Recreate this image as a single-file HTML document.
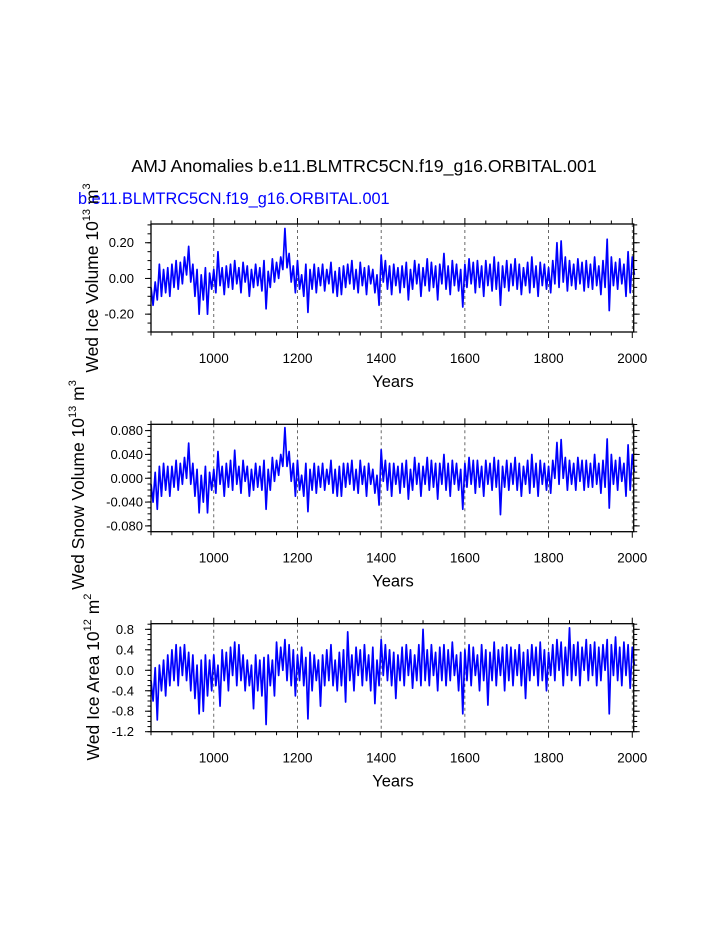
<!DOCTYPE html>
<html><head><meta charset="utf-8"><style>
html,body{margin:0;padding:0;background:#fff;}
svg{display:block;font-family:"Liberation Sans",sans-serif;}
</style></head><body>
<svg id="chart" width="723" height="935" viewBox="0 0 723 935" xmlns="http://www.w3.org/2000/svg">
<text x="364" y="172" font-size="17.7" text-anchor="middle" fill="#000">AMJ Anomalies b.e11.BLMTRC5CN.f19_g16.ORBITAL.001</text>
<text x="78" y="204" font-size="16.3" fill="#0000ff">b.e11.BLMTRC5CN.f19_g16.ORBITAL.001</text>
<g id="plots"></g>
</svg>
<script>
const years0 = 850, yearStep = 5;
const xTicks = [1000,1200,1400,1600,1800,2000];
const iceVol = [
-0.05,-0.15,-0.02,-0.12,0.08,-0.1,0.05,-0.08,0.06,-0.1,
0.08,-0.05,0.1,-0.06,0.09,-0.03,0.12,0.02,0.18,-0.02,
0.08,-0.1,0.05,-0.2,0.02,-0.12,0.06,-0.2,0.03,-0.06,
0.05,-0.08,0.15,-0.04,0.06,-0.09,0.07,-0.05,0.08,-0.06,
0.1,-0.03,0.06,-0.08,0.09,-0.02,0.07,-0.1,0.05,-0.05,
0.08,-0.04,0.06,-0.07,0.1,-0.17,0.04,-0.05,0.11,-0.02,
0.09,0.0,0.12,0.05,0.28,0.06,0.14,-0.02,0.07,-0.08,
0.1,-0.06,0.02,-0.1,0.08,-0.19,0.05,-0.06,0.08,-0.08,
0.06,-0.04,0.08,-0.07,0.05,-0.03,0.09,-0.08,0.04,-0.1,
0.06,-0.09,0.07,-0.05,0.08,-0.03,0.1,-0.06,0.05,-0.08,
0.09,-0.04,0.06,-0.09,0.07,-0.03,0.05,-0.08,0.02,-0.15,
0.13,-0.02,0.1,-0.06,0.07,-0.09,0.08,-0.04,0.06,-0.08,
0.07,-0.05,0.09,-0.12,0.05,-0.06,0.1,-0.03,0.08,-0.1,
0.06,-0.04,0.11,-0.07,0.09,-0.05,0.07,-0.12,0.08,-0.03,
0.14,-0.06,0.07,-0.09,0.1,-0.04,0.08,-0.07,0.05,-0.16,
0.08,-0.05,0.11,-0.03,0.09,-0.08,0.1,-0.05,0.07,-0.1,
0.1,-0.04,0.08,-0.07,0.12,-0.06,0.09,-0.15,0.07,-0.05,
0.1,-0.07,0.08,-0.04,0.11,-0.06,0.08,-0.09,0.06,-0.04,
0.09,-0.08,0.12,-0.05,0.07,-0.1,0.09,-0.04,0.08,-0.06,
0.06,-0.08,0.1,-0.03,0.2,-0.05,0.21,-0.02,0.12,-0.07,
0.1,-0.04,0.08,-0.06,0.11,-0.03,0.09,-0.07,0.1,-0.05,
0.08,-0.06,0.12,-0.04,0.07,-0.09,0.1,-0.05,0.22,-0.18,
0.12,-0.04,0.09,-0.06,0.11,-0.03,0.08,-0.1,0.15,-0.08,
0.12,0.02];
const snowVol = [
-0.01,-0.04,0.01,-0.052,0.02,-0.03,0.025,-0.02,0.02,-0.03,
0.02,-0.015,0.03,-0.02,0.025,-0.01,0.035,0.0,0.059,-0.01,
0.025,-0.03,0.015,-0.058,0.005,-0.04,0.02,-0.058,0.01,-0.02,
0.015,-0.025,0.045,-0.01,0.02,-0.03,0.025,-0.015,0.03,-0.02,
0.047,-0.01,0.02,-0.025,0.03,-0.005,0.02,-0.03,0.015,-0.02,
0.025,-0.015,0.02,-0.02,0.03,-0.052,0.015,-0.02,0.035,-0.005,
0.03,0.005,0.04,0.02,0.085,0.02,0.045,-0.005,0.025,-0.03,
0.03,-0.02,0.005,-0.03,0.025,-0.056,0.015,-0.02,0.025,-0.025,
0.02,-0.015,0.025,-0.02,0.015,-0.01,0.03,-0.025,0.015,-0.03,
0.02,-0.03,0.025,-0.015,0.025,-0.01,0.03,-0.02,0.015,-0.025,
0.03,-0.01,0.02,-0.03,0.025,-0.01,0.015,-0.025,0.005,-0.045,
0.048,-0.005,0.03,-0.02,0.025,-0.03,0.025,-0.01,0.02,-0.025,
0.025,-0.015,0.03,-0.035,0.015,-0.02,0.035,-0.01,0.025,-0.03,
0.02,-0.01,0.035,-0.02,0.03,-0.015,0.025,-0.035,0.025,-0.01,
0.04,-0.02,0.025,-0.03,0.03,-0.01,0.025,-0.02,0.015,-0.052,
0.025,-0.015,0.035,-0.01,0.03,-0.025,0.03,-0.015,0.02,-0.03,
0.03,-0.01,0.025,-0.02,0.035,-0.015,0.03,-0.061,0.02,-0.015,
0.03,-0.02,0.025,-0.01,0.035,-0.02,0.025,-0.03,0.02,-0.01,
0.03,-0.025,0.04,-0.015,0.025,-0.03,0.03,-0.01,0.025,-0.02,
0.02,-0.025,0.03,0.0,0.06,-0.01,0.065,0.0,0.035,-0.02,
0.03,-0.01,0.025,-0.02,0.035,-0.005,0.03,-0.02,0.03,-0.015,
0.025,-0.015,0.04,-0.01,0.025,-0.025,0.03,-0.015,0.066,-0.05,
0.04,-0.01,0.03,-0.02,0.035,-0.005,0.025,-0.03,0.056,-0.02,
0.04,0.01];
const iceArea = [
-0.2,-0.6,0.05,-0.97,0.1,-0.4,0.2,-0.5,0.3,-0.3,
0.4,-0.2,0.5,-0.3,0.45,-0.1,0.5,-0.2,0.35,-0.4,
0.3,-0.55,0.1,-0.85,0.2,-0.8,0.3,-0.5,0.2,-0.4,
0.3,-0.3,0.1,-0.7,0.4,-0.2,0.35,-0.4,0.45,-0.1,
0.55,-0.3,0.5,-0.2,0.3,-0.4,0.2,-0.3,0.1,-0.75,
0.3,-0.4,0.2,-0.5,0.25,-1.06,0.3,-0.3,0.2,-0.5,
0.55,-0.1,0.45,0.0,0.6,-0.2,0.5,-0.3,0.4,-0.5,
0.3,-0.2,0.45,-0.3,0.25,-0.95,0.35,-0.4,0.3,-0.2,
0.2,-0.7,0.3,-0.3,0.4,-0.2,0.5,-0.3,0.2,-0.4,
0.35,-0.3,0.4,-0.62,0.75,-0.2,0.3,-0.4,0.45,-0.1,
0.4,-0.3,0.5,-0.2,0.3,-0.4,0.45,-0.65,0.2,-0.3,
0.6,-0.1,0.5,-0.2,0.4,-0.3,0.35,-0.55,0.3,-0.2,
0.45,-0.3,0.5,-0.1,0.4,-0.35,0.3,-0.2,0.5,-0.3,
0.8,-0.2,0.4,-0.3,0.5,-0.1,0.35,-0.4,0.45,-0.2,
0.5,-0.3,0.4,-0.2,0.55,-0.1,0.3,-0.4,0.35,-0.85,
0.4,-0.2,0.5,-0.3,0.45,-0.1,0.3,-0.4,0.5,-0.2,
0.4,-0.68,0.35,-0.2,0.55,-0.3,0.4,-0.1,0.45,-0.4,
0.5,-0.2,0.45,-0.3,0.4,-0.1,0.5,-0.3,0.35,-0.55,
0.4,-0.2,0.5,-0.1,0.45,-0.3,0.55,-0.2,0.4,-0.4,
0.35,-0.1,0.5,-0.2,0.6,0.0,0.55,-0.3,0.45,-0.1,
0.83,-0.2,0.5,-0.1,0.55,-0.3,0.45,0.0,0.6,-0.2,
0.5,-0.1,0.55,-0.3,0.45,-0.2,0.5,0.0,0.6,-0.85,
0.5,-0.1,0.65,-0.2,0.45,-0.3,0.55,-0.1,0.5,-0.35,
0.45,0.1];
const yTicks1 = [0.2,0.0,-0.2], yLabels1 = ["0.20","0.00","-0.20"];
const yTicks2 = [0.08,0.04,0.0,-0.04,-0.08], yLabels2 = ["0.080","0.040","0.000","-0.040","-0.080"];
const yTicks3 = [0.8,0.4,0.0,-0.4,-0.8,-1.2], yLabels3 = ["0.8","0.4","0.0","-0.4","-0.8","-1.2"];

const NS="http://www.w3.org/2000/svg";
const root=document.getElementById('plots');
function mk(tag,attrs,parent){const e=document.createElementNS(NS,tag);for(const k in attrs)e.setAttribute(k,attrs[k]);(parent||root).appendChild(e);return e;}

const X0=151,X1=633.7,XMIN=850,XMAX=2003.4;
const xs=v=>X0+(v-XMIN)/(XMAX-XMIN)*(X1-X0);

function panel(key,top,bot,ymin,ymax,data,ticks,labels,minorStep,labelRight,ttl){
  const g=mk('g',{});
  
  
  const ys=v=>bot-(v-ymin)/(ymax-ymin)*(bot-top);
  xTicks.forEach(t=>{const l=mk('line',{x1:xs(t),x2:xs(t),y1:top,y2:bot,stroke:'#444','stroke-width':0.8,'stroke-dasharray':'3,3'},g);
    
    });
  let d='';data.forEach((v,i)=>{d+=(i?'L':'M')+xs(years0+i*yearStep).toFixed(2)+','+ys(v).toFixed(2);});
  const p=mk('path',{d:d,fill:'none',stroke:'#0000ff','stroke-width':1.7,'stroke-linejoin':'round'},g);
  
  
  const r=mk('rect',{x:X0,y:top,width:X1-X0,height:bot-top,fill:'none',stroke:'#000','stroke-width':1.3},g);
  
  
  for(let t=850;t<=2000;t+=50){const maj=(t%200===0);const L=maj?6:3.5;
    mk('line',{x1:xs(t),x2:xs(t),y1:bot,y2:bot+L,stroke:'#000','stroke-width':1},g);
    mk('line',{x1:xs(t),x2:xs(t),y1:top,y2:top-L,stroke:'#000','stroke-width':1},g);}
  xTicks.forEach(t=>{const tx=mk('text',{x:xs(t),y:bot+31,'font-size':13.5,'text-anchor':'middle'},g);tx.textContent=t;
    
    });
  const yt=mk('text',{x:393,y:bot+55,'font-size':16.5,'text-anchor':'middle'},g);yt.textContent='Years';
  
  
  const n=Math.round((ymax-ymin)/minorStep);
  for(let i=0;i<=n;i++){const v=ymin+i*minorStep;const y=ys(v);if(y<top-0.5||y>bot+0.5)continue;
    mk('line',{x1:X0,x2:X0-3.5,y1:y,y2:y,stroke:'#000','stroke-width':1},g);
    mk('line',{x1:X1,x2:X1+3.5,y1:y,y2:y,stroke:'#000','stroke-width':1},g);}
  ticks.forEach((t,i)=>{const y=ys(t);
    mk('line',{x1:X0,x2:X0-6,y1:y,y2:y,stroke:'#000','stroke-width':1},g);
    mk('line',{x1:X1,x2:X1+6,y1:y,y2:y,stroke:'#000','stroke-width':1},g);
    const tx=mk('text',{x:labelRight,y:y+4.5,'font-size':13,'text-anchor':'end'},g);tx.textContent=labels[i];
    
    });
  const t=mk('text',{transform:'translate('+ttl.cx+','+ttl.cy+') rotate(-90)','font-size':17.5,'text-anchor':'middle'},g);
  
  
  t.innerHTML=ttl.html;
}
panel('ice-volume',224,332,-0.30,0.305,iceVol,yTicks1,yLabels1,0.05,134,{cx:98,cy:278,html:'Wed Ice Volume 10<tspan dy="-8" font-size="11">13</tspan><tspan dy="8"> m</tspan><tspan dy="-8" font-size="11">3</tspan>'});
panel('snow-volume',424.3,531.7,-0.0897,0.0906,snowVol,yTicks2,yLabels2,0.01,143,{cx:84,cy:485,html:'Wed Snow Volume 10<tspan dy="-8" font-size="11">13</tspan><tspan dy="8"> m</tspan><tspan dy="-8" font-size="11">3</tspan>'});
panel('ice-area',623.7,731.7,-1.2,0.91,iceArea,yTicks3,yLabels3,0.1,134,{cx:99,cy:677,html:'Wed Ice Area 10<tspan dy="-8" font-size="11">12</tspan><tspan dy="8"> m</tspan><tspan dy="-8" font-size="11">2</tspan>'});
</script>
</body></html>
